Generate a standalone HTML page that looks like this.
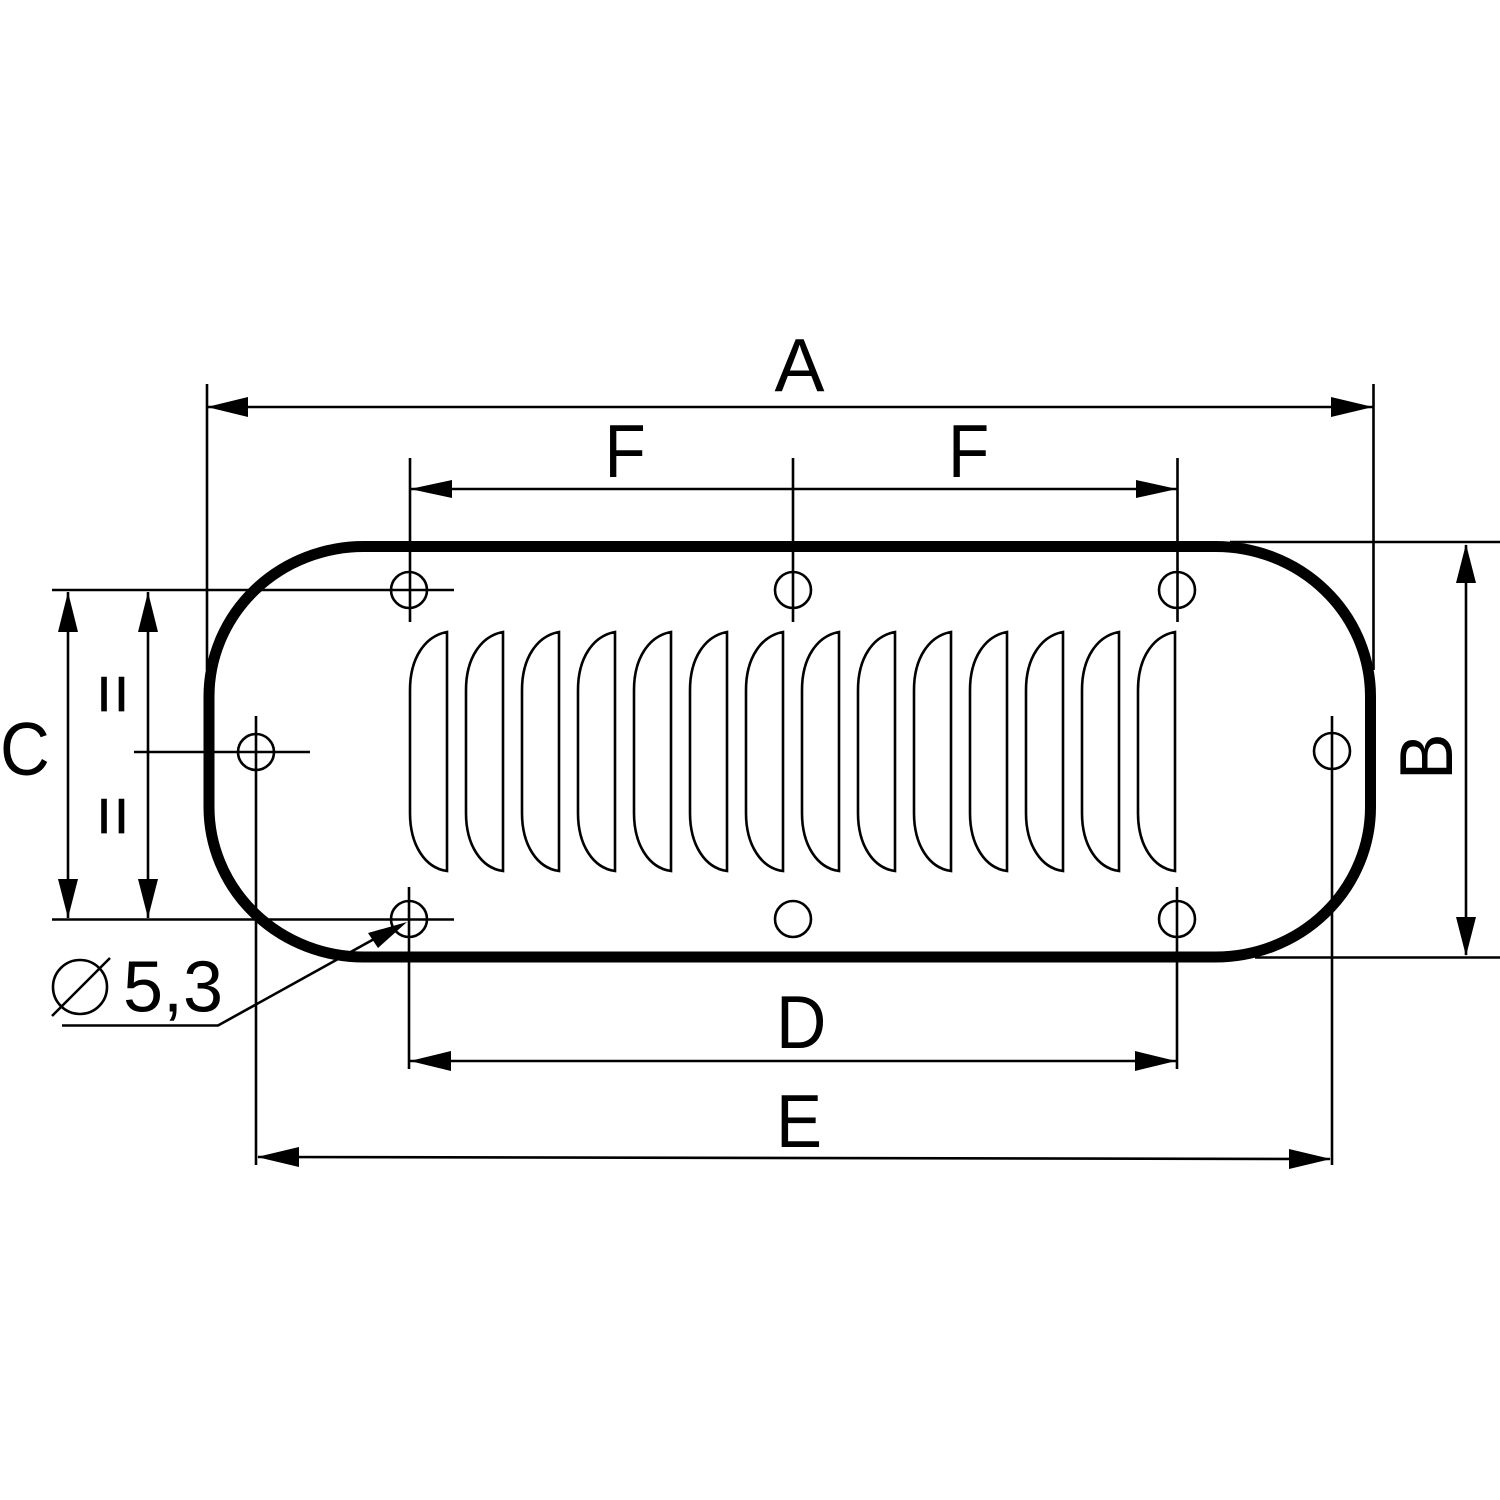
<!DOCTYPE html>
<html><head><meta charset="utf-8"><style>html,body{margin:0;padding:0;background:#fff}svg{display:block}text{font-family:"Liberation Sans",sans-serif;fill:#000}</style></head><body>
<svg xmlns="http://www.w3.org/2000/svg" width="1500" height="1500" viewBox="0 0 1500 1500">
<rect width="1500" height="1500" fill="#fff"/>
<g fill="none" stroke="#000" stroke-width="2.6">
<path d="M207 384V670M1373.500 384V670M207 407H1373"/>
<path d="M410 458V622M793 458V622M1177.500 458V622M410 489H1177"/>
<path d="M1230 542H1500M1255 957.500H1500M1466 545V955"/>
<path d="M52 590H454M52 919.500H454M68 592V918M148 592V918M134 752H310"/>
<path d="M256 716V1165M1332 716V1165"/>
<path d="M409 887V1069M1177 887V1069M410 1061H1176"/>
<path d="M258 1157L1330 1159"/>
<path d="M62 1025.500H218L385 933"/>
<circle cx="409" cy="590" r="18"/><circle cx="793" cy="590" r="18"/><circle cx="1177" cy="590" r="18"/>
<circle cx="409" cy="919" r="18"/><circle cx="793" cy="919" r="18"/><circle cx="1177" cy="919" r="18"/>
<circle cx="256" cy="752" r="18"/><circle cx="1332" cy="751" r="18"/>
<circle cx="80" cy="987" r="27"/><path d="M52 1016L110 958"/>
<path id="slat" d="M447 632V871C425 868 410 845 410 813V690C410 658 425 636 447 632Z"/>
<use href="#slat" x="56"/><use href="#slat" x="112"/><use href="#slat" x="168"/><use href="#slat" x="224"/><use href="#slat" x="280"/><use href="#slat" x="336"/><use href="#slat" x="392"/><use href="#slat" x="448"/><use href="#slat" x="504"/><use href="#slat" x="560"/><use href="#slat" x="616"/><use href="#slat" x="672"/><use href="#slat" x="728"/>
</g>
<rect x="209" y="546.500" width="1161.500" height="410.500" rx="155" ry="150" fill="none" stroke="#000" stroke-width="11"/>
<g fill="#000" stroke="none">
<path d="M207 407L248 397V417ZM1373 407L1331 397V417Z"/>
<path d="M410 489L452 480V498ZM1177 489L1136 480V498Z"/>
<path d="M1466 544L1456 583H1476ZM1466 956L1456 917H1476Z"/>
<path d="M68 592L58 632H78ZM68 918L58 879H78ZM148 592L138 632H158ZM148 918L138 879H158Z"/>
<path d="M410 1061L451 1051V1071ZM1176 1061L1135 1051V1071Z"/>
<path d="M257 1157L299 1147V1167ZM1331 1159L1289 1149V1169Z"/>
<path d="M407 922L368 933L378 948Z"/>
</g>
<text x="774.500" y="391" font-size="75">A</text>
<text transform="translate(604.500,477) scale(.9,1)" font-size="75">F</text>
<text transform="translate(948,477) scale(.9,1)" font-size="75">F</text>
<text transform="translate(0,775) scale(.92,1)" font-size="75">C</text>
<text transform="translate(776,1048) scale(.93,1)" font-size="75">D</text>
<text transform="translate(776,1147) scale(.92,1)" font-size="75">E</text>
<text x="123" y="1011.500" font-size="72">5,3</text>
<text transform="translate(1452,780) rotate(-90) scale(.93,1)" font-size="75">B</text>
<text transform="translate(90,694) rotate(90)" font-size="70" text-anchor="middle" stroke="#000" stroke-width="0.6">=</text>
<text transform="translate(90,816) rotate(90)" font-size="70" text-anchor="middle" stroke="#000" stroke-width="0.6">=</text>
</svg>
</body></html>
